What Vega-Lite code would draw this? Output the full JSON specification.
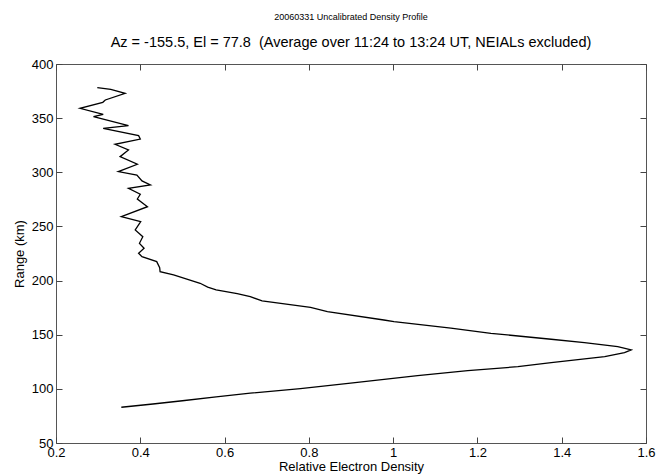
{
  "$schema": "https://vega.github.io/schema/vega-lite/v6.json",
  "width": 590,
  "height": 379,
  "autosize": {"type": "none"},
  "padding": {"left": 56, "top": 64, "right": 19, "bottom": 32},
  "background": "white",
  "title": {
    "text": "20060331  Uncalibrated Density Profile",
    "subtitle": "Az = -155.5, El = 77.8 \u00a0(Average over 11:24 to 13:24 UT, NEIALs excluded)",
    "anchor": "middle",
    "font": "Liberation Sans",
    "fontSize": 9,
    "fontWeight": "normal",
    "color": "black",
    "subtitleFont": "Liberation Sans",
    "subtitleFontSize": 14.5,
    "subtitleColor": "black",
    "subtitlePadding": 14,
    "offset": 9
  },
  "data": {
    "values": [
      {"density": 0.355, "range": 83},
      {"density": 0.43, "range": 86},
      {"density": 0.5, "range": 89},
      {"density": 0.58, "range": 92.5},
      {"density": 0.661, "range": 96},
      {"density": 0.78, "range": 100.2},
      {"density": 0.899, "range": 105.2},
      {"density": 1.058, "range": 112.2},
      {"density": 1.177, "range": 116.8},
      {"density": 1.296, "range": 120.5},
      {"density": 1.375, "range": 124.2},
      {"density": 1.502, "range": 129.7},
      {"density": 1.549, "range": 133.4},
      {"density": 1.565, "range": 136},
      {"density": 1.533, "range": 139},
      {"density": 1.454, "range": 142.7},
      {"density": 1.375, "range": 145.8},
      {"density": 1.232, "range": 151.3},
      {"density": 1.137, "range": 156},
      {"density": 1.002, "range": 162},
      {"density": 0.978, "range": 163.6},
      {"density": 0.844, "range": 171.3},
      {"density": 0.804, "range": 175.3},
      {"density": 0.689, "range": 181.2},
      {"density": 0.661, "range": 185.1},
      {"density": 0.63, "range": 188},
      {"density": 0.58, "range": 191.5},
      {"density": 0.56, "range": 194},
      {"density": 0.542, "range": 197.5},
      {"density": 0.479, "range": 205.2},
      {"density": 0.447, "range": 208.2},
      {"density": 0.446, "range": 211.9},
      {"density": 0.439, "range": 217.5},
      {"density": 0.404, "range": 222.1},
      {"density": 0.396, "range": 225.2},
      {"density": 0.409, "range": 229.8},
      {"density": 0.398, "range": 234.4},
      {"density": 0.406, "range": 240.5},
      {"density": 0.388, "range": 246.7},
      {"density": 0.401, "range": 254.4},
      {"density": 0.355, "range": 259},
      {"density": 0.417, "range": 268.2},
      {"density": 0.393, "range": 275.3},
      {"density": 0.4, "range": 279.7},
      {"density": 0.372, "range": 285.2},
      {"density": 0.424, "range": 288.3},
      {"density": 0.404, "range": 292},
      {"density": 0.392, "range": 297.5},
      {"density": 0.348, "range": 300.6},
      {"density": 0.393, "range": 307.4},
      {"density": 0.352, "range": 314.4},
      {"density": 0.372, "range": 320.6},
      {"density": 0.34, "range": 325.9},
      {"density": 0.4, "range": 330.7},
      {"density": 0.396, "range": 333.8},
      {"density": 0.312, "range": 340.6},
      {"density": 0.372, "range": 343},
      {"density": 0.289, "range": 351.3},
      {"density": 0.312, "range": 353.5},
      {"density": 0.257, "range": 359.1},
      {"density": 0.311, "range": 364.6},
      {"density": 0.317, "range": 366.8},
      {"density": 0.364, "range": 372.9},
      {"density": 0.33, "range": 376.5},
      {"density": 0.298, "range": 378.1}
    ]
  },
  "layer": [
    {
      "mark": {"type": "line", "color": "black", "strokeWidth": 1.3},
      "encoding": {
        "x": {
          "field": "density", "type": "quantitative",
          "scale": {"domain": [0.2, 1.6], "nice": false, "zero": false},
          "axis": {
            "orient": "bottom",
            "values": [0.2, 0.4, 0.6, 0.8, 1, 1.2, 1.4, 1.6],
            "format": "~g",
            "title": "Relative Electron Density",
            "titlePadding": 1
          }
        },
        "y": {
          "field": "range", "type": "quantitative",
          "scale": {"domain": [50, 400], "nice": false, "zero": false},
          "axis": {
            "orient": "left",
            "values": [50, 100, 150, 200, 250, 300, 350, 400],
            "title": "Range (km)",
            "titlePadding": 5
          }
        },
        "order": {"field": "range", "type": "quantitative"}
      }
    },
    {
      "mark": {"type": "line", "strokeOpacity": 0},
      "encoding": {
        "x": {
          "field": "density", "type": "quantitative",
          "scale": {"domain": [0.2, 1.6], "nice": false, "zero": false},
          "axis": {
            "orient": "top",
            "values": [0.2, 0.4, 0.6, 0.8, 1, 1.2, 1.4, 1.6],
            "labels": false,
            "title": null
          }
        },
        "y": {
          "field": "range", "type": "quantitative",
          "scale": {"domain": [50, 400], "nice": false, "zero": false},
          "axis": {
            "orient": "right",
            "values": [50, 100, 150, 200, 250, 300, 350, 400],
            "labels": false,
            "title": null
          }
        },
        "order": {"field": "range", "type": "quantitative"}
      }
    }
  ],
  "resolve": {"axis": {"x": "independent", "y": "independent"}},
  "config": {
    "view": {"stroke": "#555555", "strokeWidth": 1},
    "axis": {
      "grid": false,
      "domain": false,
      "offset": -6,
      "ticks": true,
      "tickSize": 6,
      "tickColor": "#444444",
      "tickWidth": 1,
      "labelPadding": 3,
      "labelFont": "Liberation Sans",
      "labelFontSize": 13,
      "labelColor": "black",
      "labelFlush": false,
      "labelOverlap": false,
      "titleFont": "Liberation Sans",
      "titleFontSize": 13,
      "titleFontWeight": "normal",
      "titleColor": "black"
    }
  }
}
